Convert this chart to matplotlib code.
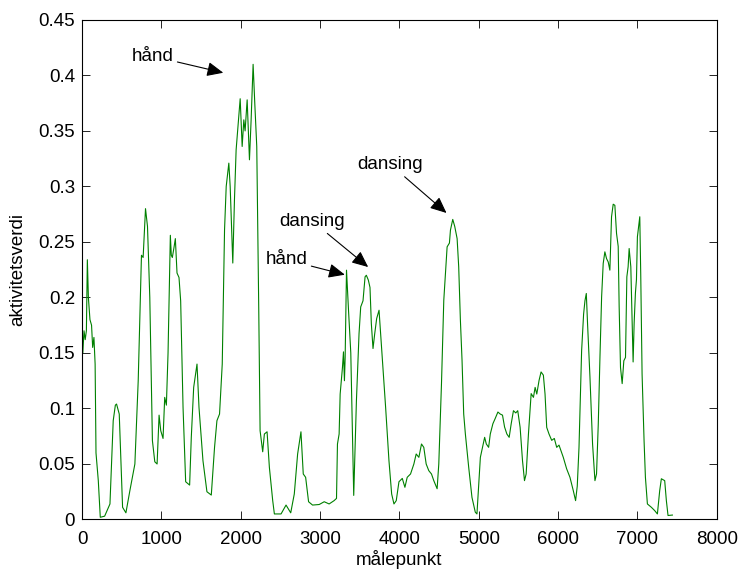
import matplotlib
matplotlib.use('Agg')
import matplotlib.pyplot as plt

plt.rcParams['font.family'] = ['Liberation Sans', 'DejaVu Sans']

# måledata: målepunkt og aktivitetsverdi
malepunkt = [0, 10, 25, 40, 55, 67, 80, 100, 120, 134, 150, 165, 176, 205, 230, 285, 352,
             393, 420, 435, 469, 511, 553, 603, 666, 708, 749, 770, 800, 825, 854, 887, 917,
             946, 971, 992, 1021, 1042, 1063, 1084, 1113, 1125, 1138, 1159, 1176, 1197, 1222,
             1243, 1273, 1306, 1356, 1377, 1407, 1449, 1474, 1524, 1574, 1629, 1670, 1700,
             1733, 1767, 1796, 1817, 1850, 1867, 1900, 1921, 1942, 1993, 2018, 2039, 2055,
             2081, 2110, 2131, 2156, 2177, 2202, 2227, 2244, 2277, 2298, 2332, 2361, 2403,
             2424, 2508, 2571, 2630, 2675, 2717, 2759, 2788, 2818, 2855, 2905, 2989, 3052,
             3114, 3177, 3207, 3219, 3240, 3253, 3282, 3295, 3307, 3316, 3333, 3358, 3387,
             3424, 3458, 3491, 3512, 3541, 3567, 3583, 3608, 3629, 3646, 3667, 3688, 3713,
             3743, 3763, 3793, 3826, 3868, 3902, 3931, 3960, 3994, 4036, 4069, 4098, 4140,
             4182, 4211, 4245, 4278, 4307, 4337, 4370, 4404, 4433, 4475, 4496, 4530, 4559,
             4601, 4630, 4643, 4672, 4697, 4727, 4747, 4768, 4789, 4810, 4831, 4873, 4914,
             4956, 4977, 5020, 5074, 5095, 5124, 5145, 5178, 5207, 5241, 5270, 5299, 5325,
             5354, 5383, 5408, 5437, 5466, 5491, 5521, 5551, 5576, 5597, 5626, 5660, 5689,
             5710, 5731, 5760, 5785, 5814, 5835, 5856, 5885, 5919, 5952, 5982, 6011, 6036,
             6065, 6107, 6149, 6191, 6220, 6241, 6263, 6296, 6321, 6338, 6355, 6371, 6401,
             6434, 6464, 6484, 6506, 6527, 6548, 6568, 6589, 6610, 6631, 6652, 6673, 6694,
             6715, 6736, 6757, 6769, 6786, 6807, 6828, 6849, 6866, 6882, 6895, 6916, 6932,
             6945, 6958, 6974, 6987, 6999, 7029, 7041, 7058, 7083, 7100, 7125, 7175, 7217,
             7251, 7280, 7301, 7343, 7364, 7385, 7440]
aktivitet = [0.187, 0.15, 0.17, 0.162, 0.17, 0.234, 0.20, 0.18, 0.175, 0.155, 0.164, 0.14,
             0.06, 0.035, 0.002, 0.003, 0.014, 0.089, 0.103, 0.104, 0.095, 0.011, 0.006,
             0.026, 0.05, 0.125, 0.238, 0.236, 0.28, 0.264, 0.2, 0.071, 0.052, 0.05, 0.094,
             0.08, 0.073, 0.11, 0.103, 0.15, 0.256, 0.238, 0.236, 0.245, 0.253, 0.222, 0.218,
             0.197, 0.101, 0.034, 0.031, 0.074, 0.119, 0.14, 0.101, 0.053, 0.025, 0.022,
             0.065, 0.089, 0.095, 0.14, 0.261, 0.30, 0.321, 0.30, 0.231, 0.288, 0.333, 0.379,
             0.336, 0.36, 0.35, 0.378, 0.324, 0.36, 0.41, 0.375, 0.336, 0.19, 0.08, 0.061,
             0.077, 0.079, 0.047, 0.017, 0.005, 0.005, 0.013, 0.006, 0.023, 0.059, 0.079,
             0.041, 0.038, 0.016, 0.013, 0.0135, 0.016, 0.014, 0.017, 0.019, 0.068, 0.077,
             0.113, 0.137, 0.151, 0.125, 0.146, 0.2246, 0.189, 0.15, 0.0217, 0.107, 0.1675,
             0.1915, 0.197, 0.2186, 0.22, 0.2157, 0.209, 0.1765, 0.154, 0.167, 0.181, 0.1885,
             0.1675, 0.137, 0.101, 0.053, 0.023, 0.014, 0.017, 0.034, 0.037, 0.029, 0.038,
             0.041, 0.05, 0.059, 0.056, 0.068, 0.065, 0.05, 0.044, 0.041, 0.035, 0.0277,
             0.05, 0.1224, 0.1975, 0.2456, 0.249, 0.2607, 0.2703, 0.264, 0.253, 0.2276, 0.18,
             0.1434, 0.095, 0.077, 0.047, 0.02, 0.0066, 0.005, 0.056, 0.074, 0.068, 0.065,
             0.077, 0.0863, 0.091, 0.0968, 0.095, 0.094, 0.0833, 0.077, 0.074, 0.086, 0.098,
             0.096, 0.098, 0.083, 0.053, 0.035, 0.041, 0.077, 0.1134, 0.11, 0.119, 0.113,
             0.1254, 0.1329, 0.13, 0.113, 0.083, 0.077, 0.0713, 0.073, 0.065, 0.067, 0.062,
             0.056, 0.0457, 0.038, 0.026, 0.017, 0.03, 0.065, 0.152, 0.185, 0.197, 0.2036,
             0.176, 0.1284, 0.068, 0.035, 0.041, 0.0863, 0.146, 0.2005, 0.2306, 0.2411, 0.235,
             0.232, 0.2246, 0.2727, 0.284, 0.283, 0.2577, 0.246, 0.192, 0.137, 0.1224, 0.143,
             0.146, 0.2186, 0.2276, 0.2441, 0.2276, 0.182, 0.1419, 0.177, 0.204, 0.216,
             0.2546, 0.2727, 0.221, 0.131, 0.071, 0.038, 0.014, 0.011, 0.008, 0.005, 0.026,
             0.0367, 0.035, 0.017, 0.0036, 0.004]

# merknader: tekst, pilspiss, tekstposisjon, justering
merknad_tekst = ['hånd', 'dansing', 'dansing', 'hånd']
merknad_pil = [(1780, 0.4024), (4593, 0.2761), (3606, 0.2274), (3312, 0.2205)]
merknad_pos = [(1150, 0.4174), (3888, 0.3197), (2905, 0.2686), (2838, 0.234)]
merknad_ha = ['right', 'center', 'center', 'right']

fig = plt.figure(figsize=(7.39, 5.69), dpi=100)
ax = fig.add_axes([0.111, 0.087, 0.859, 0.878])

ax.plot(malepunkt, aktivitet, color='#008000', lw=0.8)

for tekst, pil, pos, ha in zip(merknad_tekst, merknad_pil, merknad_pos, merknad_ha):
    ax.annotate(tekst, xy=pil, xytext=pos, ha=ha, va='center', fontsize=13.5,
                arrowprops=dict(arrowstyle='-|>,head_length=0.45,head_width=0.2',
                                color='k', lw=0.8, shrinkA=1, shrinkB=0,
                                mutation_scale=22))

ax.set_xlim(0, 8000)
ax.set_ylim(0, 0.45)
ax.set_xticks(range(0, 8001, 1000))
ax.set_yticks([0, 0.05, 0.1, 0.15, 0.2, 0.25, 0.3, 0.35, 0.4, 0.45])
ax.set_yticklabels(['0', '0.05', '0.1', '0.15', '0.2', '0.25', '0.3', '0.35', '0.4', '0.45'])
ax.tick_params(direction='in', top=True, right=True, length=6, width=0.6,
               labelsize=13.5, pad=5)
ax.tick_params(axis='x', pad=8)
for sp in ax.spines.values():
    sp.set_linewidth(0.8)

ax.set_xlabel('målepunkt', fontsize=13.5, labelpad=2)
ax.set_ylabel('aktivitetsverdi', fontsize=13.5, labelpad=9)

fig.savefig('out.png', dpi=100)
